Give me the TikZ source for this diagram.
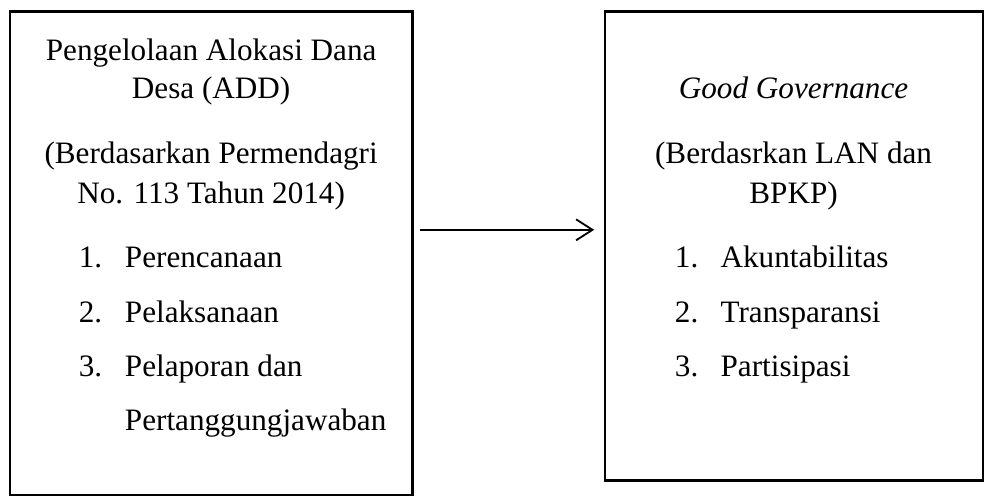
\documentclass[tikz,border=0pt]{standalone}
\usepackage{fontspec}
\setmainfont{Liberation Serif}
\usetikzlibrary{arrows.meta,fit}

\tikzset{
  frame/.style={draw=black, line width=2pt, inner sep=0pt},
  txt/.style={inner sep=0pt, anchor=base, font=\fontsize{23.8pt}{28pt}\selectfont},
  itemnum/.style={txt, anchor=base west},
  itemtxt/.style={txt, anchor=base west},
  link/.style={draw=black, line width=1.4pt, -{Straight Barb[length=12.5pt, width=16pt, line width=1.4pt]}}
}

\begin{document}
\begin{tikzpicture}[x=0.75pt, y=-0.75pt]
  \useasboundingbox (0,0) rectangle (1007,510.1);
  \fill[white] (0,0) rectangle (1007,510.1);

  % the two frames
  \node[frame, fit={(10,11.7) (420,504)}] (lbox) {};
  \node[frame, fit={(616,11.7) (1001,489)}] (rbox) {};

  % left frame contents
  \node[txt] (l1) at (215,62) {Pengelolaan Alokasi Dana};
  \node[txt] (l2) at (215,100) {Desa (ADD)};
  \node[txt] (l3) at (215,166) {(Berdasarkan Permendagri};
  \node[txt] (l4) at (215,207) {No. 113 Tahun 2014)};
  \node[itemnum] (ln1) at (80,272) {1.};
  \node[itemtxt] (lt1) at (127,272) {Perencanaan};
  \node[itemnum] (ln2) at (80,328) {2.};
  \node[itemtxt] (lt2) at (127,328) {Pelaksanaan};
  \node[itemnum] (ln3) at (80,383) {3.};
  \node[itemtxt] (lt3) at (127,383) {Pelaporan dan};
  \node[itemtxt] (lt4) at (127,438) {Pertanggungjawaban};

  % right frame contents
  \node[txt] (r1) at (808,100) {\itshape Good Governance};
  \node[txt] (r2) at (808,166) {(Berdasrkan LAN dan};
  \node[txt] (r3) at (808,207) {BPKP)};
  \node[itemnum] (rn1) at (687,272) {1.};
  \node[itemtxt] (rt1) at (733.5,272) {Akuntabilitas};
  \node[itemnum] (rn2) at (687,328) {2.};
  \node[itemtxt] (rt2) at (733.5,328) {Transparansi};
  \node[itemnum] (rn3) at (687,383) {3.};
  \node[itemtxt] (rt3) at (733.5,383) {Partisipasi};

  % connector between the frames
  \coordinate (ArrowStart) at (428,234);
  \coordinate (ArrowEnd) at (605,234);
  \draw[link] (ArrowStart) -- (ArrowEnd);
\end{tikzpicture}
\end{document}
